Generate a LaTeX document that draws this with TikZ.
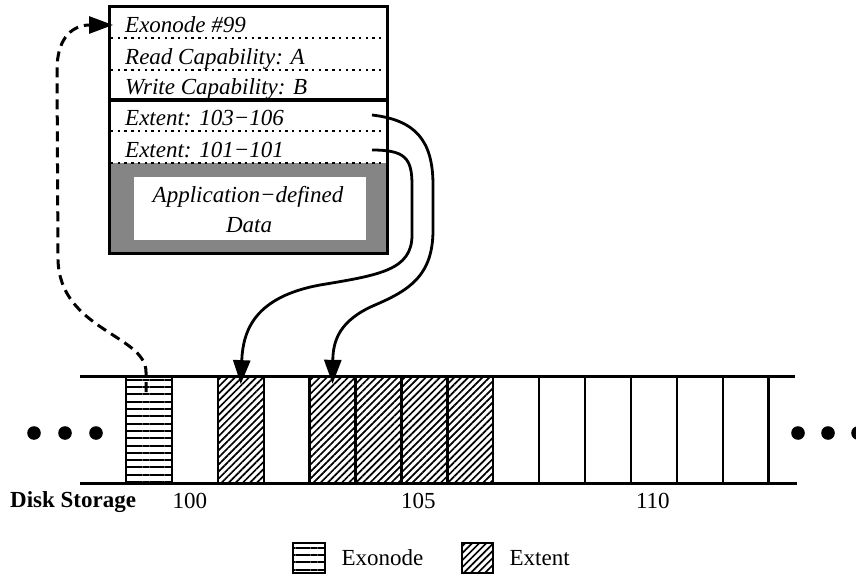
\documentclass[tikz,border=0pt]{standalone}
\usepackage{fontspec}
\setmainfont{Liberation Serif}
\usetikzlibrary{arrows.meta,patterns.meta,positioning}

\begin{document}
\begin{tikzpicture}[x=1pt,y=-1pt,>={Triangle[length=24pt,width=17pt]},
  font=\fontsize{23}{27}\selectfont,
  row/.style={anchor=base west,inner sep=0pt,font=\fontsize{23}{27}\selectfont\itshape},
  cell/.style={draw,line width=2.4pt,minimum width=45.9pt,minimum height=107pt,inner sep=0pt},
  emptycell/.style={},
  exo/.style={pattern={Lines[angle=0,distance=7.3pt,line width=2pt]}},
  ext/.style={pattern={Lines[angle=45,distance=5pt,line width=1.7pt]}},
  sep/.style={line width=2.6pt,dash pattern=on 2.4pt off 4.3pt},
  num/.style={inner sep=0pt}]
\useasboundingbox (0,0) rectangle (856,577);
% exonode record
\fill[black!48] (109,163) rectangle (387,254);
\fill[white] (134,177) rectangle (366,240);
\draw[line width=3pt] (109,7) rectangle (387,254);
\draw[line width=4.5pt] (109,100) -- (387,100);
\foreach \y in {38,70,131,163}
  \draw[sep] (111,\y) -- (385,\y);
\node[row] (hdr) at (125,33) {Exonode \#99};
\node[row] (rcap) at (125,65) {Read Capability: A};
\node[row] (wcap) at (125,95) {Write Capability: B};
\node[row] (ext1) at (125,126) {Extent: 103−106};
\node[row] (ext2) at (125,158) {Extent: 101−101};
\node[row,anchor=base] (app1) at (248,203) {Application−defined};
\node[row,anchor=base] (app2) at (249,233) {Data};
% disk blocks
\foreach \n/\s in {99/exo,100/emptycell,101/ext,102/emptycell,103/ext,104/ext,105/ext,106/ext,
  107/emptycell,108/emptycell,109/emptycell,110/emptycell,111/emptycell,112/emptycell}
  \node[cell,\s] (b\n) at ({148.95+(\n-99)*45.9},429.5) {};
\draw[line width=3pt] (80,376) -- (795,376);
\draw[line width=3pt] (80,483) -- (797,483);
\foreach \x in {34,65,96,798,828,858}
  \fill (\x,433) circle (6.8pt);
% block numbers
\node[num,below=9pt of b100,xshift=-5pt] (l100) {100};
\node[num,below=9pt of b105,xshift=-6pt] (l105) {105};
\node[num,below=9pt of b110,xshift=-1pt] (l110) {110};
\node[num,anchor=base west,font=\fontsize{23}{27}\selectfont\bfseries] (dsk) at (10,507) {Disk Storage};
% legend
\node[cell,exo,minimum width=32pt,minimum height=30pt,line width=2.8pt] (lgx) at (309,558) {};
\node[num,right=15pt of lgx] (lgxt) {Exonode};
\node[cell,ext,minimum width=31pt,minimum height=30pt,line width=2.8pt] (lge) at (477.5,558) {};
\node[num,right=15pt of lge] (lget) {Extent};
% pointers
\coordinate (e1) at (372,115);
\coordinate (e2) at (372,150);
\coordinate (xs) at (146,392);
\coordinate (xe) at (113,25);
\draw[->,line width=2.8pt] (e1) .. controls (415,120) and (433,140) .. (433,185) -- (433,230)
  .. controls (433,275) and (410,290) .. (375,305)
  .. controls (340,320) and (333,340) .. ([yshift=-9pt]b103.north);
\draw[->,line width=2.8pt] (e2) .. controls (405,150) and (412,158) .. (412,185) -- (412,235)
  .. controls (412,270) and (380,275) .. (320,285)
  .. controls (255,297) and (243,330) .. ([yshift=-9pt]b101.north);
\draw[->,line width=3pt,dash pattern=on 10pt off 6pt] (xs) -- (146,372)
  .. controls (146,335) and (60,330) .. (58,260) -- (57,70)
  .. controls (57,35) and (75,25) .. (xe);
\end{tikzpicture}
\end{document}
